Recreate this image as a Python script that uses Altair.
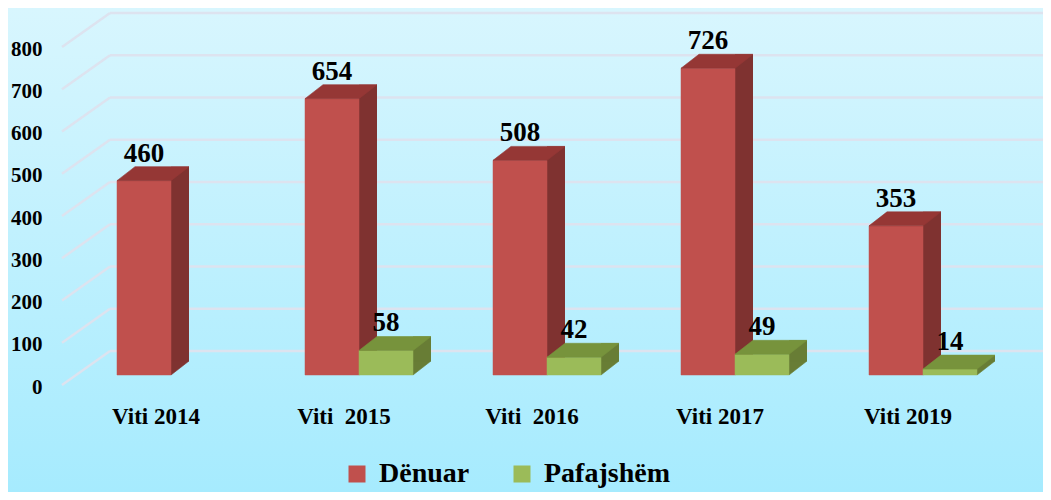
import altair as alt
import pandas as pd

categories = ["Viti 2014", "Viti\u00a0 2015", "Viti\u00a0 2016", "Viti 2017", "Viti 2019"]
denuar = [460, 654, 508, 726, 353]
pafajshem = [None, 58, 42, 49, 14]
series_names = ["Dënuar", "Pafajshëm"]
tick_values = [0, 100, 200, 300, 400, 500, 600, 700, 800]

RED_FRONT, RED_SIDE, RED_TOP = "#c0504d", "#7f3230", "#953735"
GRN_FRONT, GRN_SIDE, GRN_TOP = "#9bbb59", "#687d35", "#77933c"
GRID = "#dde3ef"
FONT = "Liberation Serif"

df = pd.DataFrame({"cat": categories, "denuar": denuar, "pafajshem": pafajshem})
df["zero"] = 0
ticks_df = pd.DataFrame({"t": tick_values})
one = pd.DataFrame({"a": [0]})

W, H = 940, 338
xscale = alt.Scale(domain=categories, paddingInner=0, paddingOuter=0)
yscale = alt.Scale(domain=[0, 800], nice=False, zero=True)


def X():
    return alt.X("cat:N", scale=xscale, title=None)


def Y(field):
    return alt.Y(f"{field}:Q", scale=yscale, title=None)


TOP_PATH = "M-1,0.194L0.5,0.194L1,-0.194L-0.5,-0.194Z"
TRI_PATH = "M-1,0.778L-1,-0.778L1,-0.778Z"

bg = alt.Chart(one).mark_rect(
    color=alt.LinearGradient(
        gradient="linear",
        stops=[alt.GradientStop(color="#d8f6fe", offset=0),
               alt.GradientStop(color="#a6ebfe", offset=1)],
        x1=0, x2=0, y1=0, y2=1),
).encode(x=alt.value(-54), x2=alt.value(981), y=alt.value(-39), y2=alt.value(445))

# first layer with a y scale carries the y axis definition
grid_back = alt.Chart(ticks_df).mark_rule(color=GRID, strokeWidth=2.5, yOffset=-34).encode(
    x=alt.value(48), x2=alt.value(981),
    y=alt.Y("t:Q", scale=yscale, title=None, axis=alt.Axis(
        values=tick_values, labelFont=FONT, labelFontSize=21, labelFontWeight="bold",
        labelColor="#000000", labelPadding=20, ticks=False, domain=False, grid=False,
        labelOffset=2, zindex=1)))

grid_slant = alt.Chart(ticks_df).mark_point(
    shape="M-1,0.708L1,-0.708", size=2304, filled=False, color=GRID,
    strokeWidth=2.5, opacity=1, yOffset=-17).encode(
    x=alt.value(24), y=alt.Y("t:Q", scale=yscale, title=None))


def bar3d(data, field, base_off, front, side, top, series, first):
    if first:
        xenc = alt.X("cat:N", scale=xscale, title=None, axis=alt.Axis(
            labelFont=FONT, labelFontSize=23, labelFontWeight="bold", labelColor="#000000",
            labelAngle=0, labelPadding=20, ticks=False, domain=False, grid=False,
            labelLimit=300, zindex=1))
    else:
        xenc = X()
    side_l = alt.Chart(data).mark_bar(
        width=18, xOffset=base_off + 36, yOffset=-24, y2Offset=-24, color=side).encode(
        x=xenc, y=Y(field), y2="zero:Q")
    tri_l = alt.Chart(data).mark_point(
        shape=TRI_PATH, size=324, filled=True, opacity=1, color=side,
        strokeWidth=0.6, stroke=side, xOffset=base_off + 36, yOffset=-17).encode(
        x=X(), y=Y("zero"))
    front_l = alt.Chart(data).transform_calculate(series=f"'{series}'").mark_bar(
        width=54, xOffset=base_off, yOffset=-10, y2Offset=-10,
        stroke=front, strokeWidth=0.5).encode(
        x=X(), y=Y(field), y2="zero:Q",
        color=alt.Color("series:N", scale=alt.Scale(domain=series_names, range=[RED_FRONT, GRN_FRONT]),
                        legend=alt.Legend(
                            title=None, orient="none", legendX=281, legendY=413,
                            direction="horizontal", symbolType="square", symbolSize=289,
                            symbolStrokeWidth=0, labelFont=FONT, labelFontSize=28,
                            labelFontWeight="bold", labelColor="#000000", labelOffset=8,
                            columnPadding=38, padding=0, zindex=1)))
    top_l = alt.Chart(data).mark_point(
        shape=TOP_PATH, size=5184, filled=True, opacity=1, color=top,
        strokeWidth=0.6, stroke=top, xOffset=base_off + 9, yOffset=-17).encode(
        x=X(), y=Y(field))
    text_l = alt.Chart(data).mark_text(
        font=FONT, fontSize=27, fontWeight="bold", color="#000000", align="center",
        baseline="alphabetic", xOffset=base_off, yOffset=-29).encode(
        x=X(), y=Y(field), text=alt.Text(f"{field}:Q"))
    return [side_l, tri_l, front_l, top_l, text_l]


red_layers = bar3d(df[["cat", "denuar", "zero"]], "denuar", -12,
                   RED_FRONT, RED_SIDE, RED_TOP, "Dënuar", True)
gdf = df.dropna(subset=["pafajshem"])[["cat", "pafajshem", "zero"]].copy()
green_layers = bar3d(gdf, "pafajshem", 42, GRN_FRONT, GRN_SIDE, GRN_TOP, "Pafajshëm", False)

chart = alt.layer(bg, grid_back, grid_slant, *red_layers, *green_layers).properties(
    width=W, height=H,
    autosize=alt.AutoSizeParams(type="none"),
    padding={"left": 54, "top": 39, "right": 41, "bottom": 107},
).configure_view(stroke=None).configure(background="#bdf0fe")

chart.save("out.html", embed_options={"renderer": "svg", "actions": False})
